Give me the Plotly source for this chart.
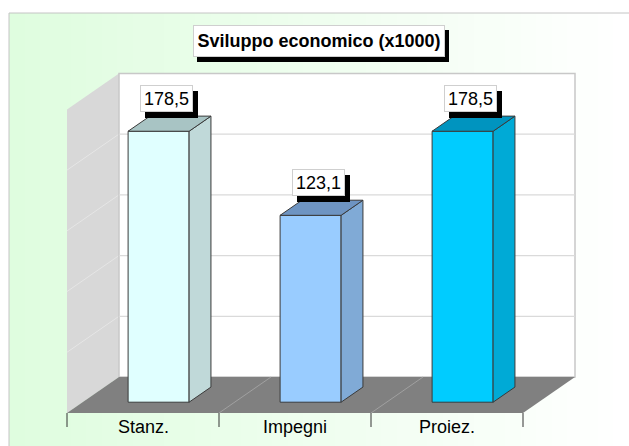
import plotly.graph_objects as go

# ---------------- data ----------------
categories = ["Stanz.", "Impegni", "Proiez."]
values = [178.5, 123.1, 178.5]
value_labels = ["178,5", "123,1", "178,5"]
title_text = "Sviluppo economico (x1000)"
gridline_values = [40, 80, 120, 160]
axis_max = 200

# ---------------- styles ----------------
front_colors = ["#e0ffff", "#99ccff", "#00ccff"]
side_colors = ["#c0d9d9", "#80aad6", "#00aad6"]
top_colors = ["#a8c4c4", "#6e94c2", "#0094bf"]
FONT = "Liberation Sans, Arial, sans-serif"

W, H = 629, 446
CAT_PX = 152.0      # pixels per category on the front plane
X0_PX = 143.0       # pixel x of first category centre (front plane)
Y0_PX = 413.0       # pixel y of value 0 (front plane)
UNIT_PX = 1.518     # pixels per value unit
DEPTH_DX_PX = 52.0  # floor depth, horizontal
DEPTH_DY_PX = 36.0  # floor depth, vertical
BAR_W = 61.0 / CAT_PX
D_FRONT, D_BACK = 0.30, 0.72

KX = DEPTH_DX_PX / CAT_PX
KY = DEPTH_DY_PX / UNIT_PX


def proj(u, v, d):
    """oblique projection: category u, value v, depth d (0 front .. 1 back)"""
    return u + d * KX, v + d * KY


def path(points):
    return "M " + " L ".join(f"{x:.5f},{y:.5f}" for x, y in points) + " Z"


n = len(categories)
umin, umax = -0.5, n - 0.5

shapes = []

# background gradient (light green -> white) inside chart frame
frame_x0 = 9 / W
frame_y1 = 1 - 13 / H
n_strips = 40
c0 = (0xDF, 0xFD, 0xDF)
c1 = (0xFF, 0xFF, 0xFF)
for k in range(n_strips):
    t = k / (n_strips - 1)
    col = "rgb(%d,%d,%d)" % tuple(round(a + (b - a) * t) for a, b in zip(c0, c1))
    xa = frame_x0 + (1 - frame_x0) * k / n_strips
    xb = frame_x0 + (1 - frame_x0) * (k + 1) / n_strips + 0.002
    shapes.append(dict(type="rect", xref="paper", yref="paper", x0=xa, x1=xb,
                       y0=-0.01, y1=frame_y1, fillcolor=col, line=dict(width=0),
                       layer="below"))
shapes.append(dict(type="rect", xref="paper", yref="paper", x0=frame_x0, x1=1.05,
                   y0=-0.05, y1=frame_y1, fillcolor="rgba(0,0,0,0)",
                   line=dict(color="#c4c4c4", width=1), layer="below"))

# left wall
shapes.append(dict(type="path", xref="x", yref="y", layer="below",
                   path=path([proj(umin, 0, 0), proj(umin, 0, 1),
                              proj(umin, axis_max, 1), proj(umin, axis_max, 0)]),
                   fillcolor="#d8d8d8", line=dict(width=0)))
for gv in gridline_values:
    (xa, ya), (xb, yb) = proj(umin, gv, 0), proj(umin, gv, 1)
    shapes.append(dict(type="line", xref="x", yref="y", layer="below",
                       x0=xa, y0=ya, x1=xb, y1=yb, line=dict(color="#e6e6e6", width=1)))

# back wall
shapes.append(dict(type="path", xref="x", yref="y", layer="below",
                   path=path([proj(umin, 0, 1), proj(umax, 0, 1),
                              proj(umax, axis_max, 1), proj(umin, axis_max, 1)]),
                   fillcolor="#ffffff", line=dict(color="#c8c8c8", width=1.5)))
for gv in gridline_values:
    (xa, ya), (xb, yb) = proj(umin, gv, 1), proj(umax, gv, 1)
    shapes.append(dict(type="line", xref="x", yref="y", layer="below",
                       x0=xa, y0=ya, x1=xb, y1=yb, line=dict(color="#dadada", width=1.2)))

# floor
shapes.append(dict(type="path", xref="x", yref="y", layer="below",
                   path=path([proj(umin, 0, 0), proj(umax, 0, 0),
                              proj(umax, 0, 1), proj(umin, 0, 1)]),
                   fillcolor="#808080", line=dict(width=0)))
for b in range(1, n):
    (xa, ya), (xb, yb) = proj(b - 0.5, 0, 0), proj(b - 0.5, 0, 1)
    shapes.append(dict(type="line", xref="x", yref="y", layer="below",
                       x0=xa, y0=ya, x1=xb, y1=yb, line=dict(color="#a0a0a0", width=1)))

# category tick marks
tick_len = 14 / UNIT_PX
for b in range(n + 1):
    shapes.append(dict(type="line", xref="x", yref="y", layer="above",
                       x0=b - 0.5, y0=0, x1=b - 0.5, y1=-tick_len,
                       line=dict(color="#333333", width=1)))

fig = go.Figure()

# front faces of the bars
fig.add_trace(go.Bar(
    x=[i + D_FRONT * KX for i in range(n)],
    y=values,
    base=D_FRONT * KY,
    width=BAR_W,
    marker=dict(color=front_colors, line=dict(color="#3a3a3a", width=1)),
    hoverinfo="skip",
))

# side and top faces
for i, v in enumerate(values):
    r = i + BAR_W / 2
    l = i - BAR_W / 2
    side = [proj(r, 0, D_FRONT), proj(r, 0, D_BACK), proj(r, v, D_BACK), proj(r, v, D_FRONT)]
    top = [proj(l, v, D_FRONT), proj(r, v, D_FRONT), proj(r, v, D_BACK), proj(l, v, D_BACK)]
    for poly, col in ((side, side_colors[i]), (top, top_colors[i])):
        xs = [p[0] for p in poly] + [poly[0][0]]
        ys = [p[1] for p in poly] + [poly[0][1]]
        fig.add_trace(go.Scatter(x=xs, y=ys, mode="lines", fill="toself",
                                 fillcolor=col, line=dict(color="#3a3a3a", width=1),
                                 hoverinfo="skip"))

annotations = []
# category labels
for i, c in enumerate(categories):
    annotations.append(dict(x=i, y=-14 / UNIT_PX, xref="x", yref="y", text=c,
                            showarrow=False, xanchor="center", yanchor="middle",
                            font=dict(family=FONT, size=18, color="#000000")))

# value labels with shadow (shadow box carries no text)
for i, (v, t) in enumerate(zip(values, value_labels)):
    lx, ly = proj(i, v, 0.45)
    for shadow in (True, False):
        annotations.append(dict(
            x=lx, y=ly, xref="x", yref="y", text=" " if shadow else t, showarrow=False,
            xanchor="center", yanchor="bottom",
            xshift=5 if shadow else 0, yshift=(14 - 6) if shadow else 14,
            width=47, height=21, borderpad=2, borderwidth=1,
            bgcolor="#000000" if shadow else "#ffffff",
            bordercolor="#000000" if shadow else "#cfcfcf",
            font=dict(family=FONT, size=18, color="#000000")))

# title with shadow
for shadow in (True, False):
    annotations.append(dict(
        x=(193 + 445) / 2 / W, y=1 - (25 + 57) / 2 / H, xref="paper", yref="paper",
        text=" " if shadow else "<b>" + title_text + "</b>", showarrow=False,
        xanchor="center", yanchor="middle",
        xshift=4 if shadow else 0, yshift=-5 if shadow else 0,
        width=244, height=24, borderpad=3, borderwidth=1,
        bgcolor="#000000" if shadow else "#ffffff",
        bordercolor="#000000" if shadow else "#cfcfcf",
        font=dict(family=FONT, size=18, color="#000000")))

fig.update_layout(
    width=W, height=H,
    margin=dict(l=0, r=0, t=0, b=0),
    paper_bgcolor="#ffffff", plot_bgcolor="rgba(0,0,0,0)",
    showlegend=False, hovermode=False,
    xaxis=dict(range=[(0 - X0_PX) / CAT_PX, (W - X0_PX) / CAT_PX], visible=False,
               fixedrange=True),
    yaxis=dict(range=[(Y0_PX - H) / UNIT_PX, Y0_PX / UNIT_PX], visible=False,
               fixedrange=True),
    shapes=shapes,
    annotations=annotations,
)

fig.write_html("out.html", config={"displayModeBar": False},
               post_script="document.body.style.margin='0';document.body.style.overflow='hidden';")
